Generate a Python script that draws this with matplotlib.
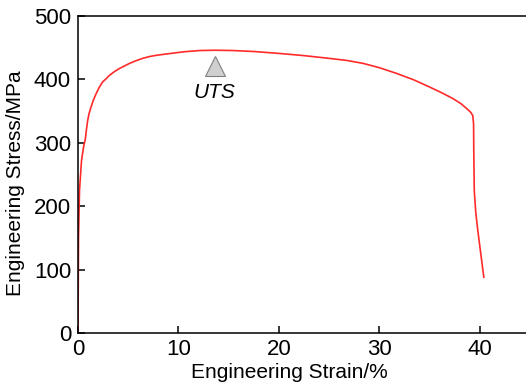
import matplotlib
matplotlib.use('Agg')
from matplotlib import pyplot as plt

# engineering stress-strain curve
strain = [0, 0.05, 0.15, 0.35, 0.55, 0.65, 0.73, 0.85, 0.96, 1.1, 1.29, 1.5,
          1.79, 2.1, 2.45, 2.8, 3.1, 3.6, 4.1, 4.6, 5.1, 5.7, 6.4, 7.1, 7.8,
          8.75, 10.5, 12.1, 13.6, 15.5, 17.5, 20, 22.5, 25.1, 26.8, 28.4, 30,
          31.7, 33.4, 35.0, 36.2, 37.3, 38.1, 38.7, 39.1, 39.3, 39.38, 39.4,
          39.45, 39.6, 39.8, 40.1, 40.4]
stress = [0, 150, 225, 272, 293, 300, 306, 322, 335, 346, 356, 366,
          377, 387, 396, 401, 406, 412, 417, 421, 425, 429, 433, 436, 438,
          440, 443.5, 445.5, 446, 445.5, 444, 441, 437.5, 433, 429.8, 425.2, 418.5,
          409.5, 399.5, 388, 379, 370, 362, 354, 348, 343, 330, 290,
          225, 190, 162, 125, 88]

# UTS marker and label
uts_strain = 13.6
uts_marker_stress = 421
uts_label_stress = 380

xticks = [0, 10, 20, 30, 40]
yticks = [0, 100, 200, 300, 400, 500]

plt.rcParams['font.family'] = ['Liberation Sans', 'DejaVu Sans']

fig = plt.figure(figsize=(5.26, 3.89), dpi=100)
ax = fig.add_axes([78 / 526, 56 / 389, 1 - 78 / 526, 317 / 389])

ax.plot(strain, stress, color='#ff2a2a', lw=1.2)
ax.plot([uts_strain], [uts_marker_stress], marker='^', ms=15,
        markerfacecolor='#d0d0d0', markeredgecolor='#808080', markeredgewidth=0.8)
ax.text(uts_strain, uts_label_stress, 'UTS', style='italic', fontsize=15,
        ha='center', va='center')

ax.set_xlim(0, 44.6)
ax.set_ylim(0, 500)
ax.set_xticks(xticks)
ax.set_yticks(yticks)
ax.tick_params(direction='in', length=5, width=1.1, labelsize=16)
ax.tick_params(axis='x', pad=4)
ax.tick_params(axis='y', pad=5)
ax.spines['right'].set_visible(False)
for s in ['left', 'bottom', 'top']:
    ax.spines[s].set_linewidth(1.1)

ax.set_xlabel('Engineering Strain/%', fontsize=15)
ax.set_ylabel('Engineering Stress/MPa', fontsize=15)
ax.xaxis.set_label_coords(0.471, -0.095)
ax.yaxis.set_label_coords(-0.118, 0.473)

fig.savefig('out.png', dpi=100)
